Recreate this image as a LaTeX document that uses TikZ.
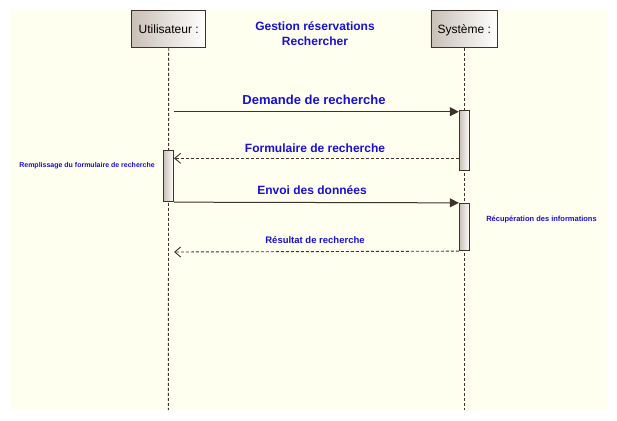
\documentclass[tikz,border=0pt]{standalone}
\usepackage{fontspec}
\setmainfont{Liberation Sans}
\usetikzlibrary{arrows.meta}
\definecolor{bgyellow}{HTML}{FEFFEF}
\definecolor{linecol}{HTML}{3E322A}
\definecolor{boxgray}{HTML}{C9C0B7}
\definecolor{txtblue}{HTML}{1A0FD6}
\tikzset{
  objbox/.style={draw=linecol, line width=0.9pt, left color=boxgray, right color=white, minimum width=74pt, minimum height=37pt, inner sep=0pt, font=\fontsize{12}{14}\selectfont, text depth=0pt},
  actbox/.style={draw=linecol, line width=0.9pt, left color=boxgray, right color=white, minimum width=10.5pt, inner sep=0pt},
  lifeline/.style={draw=linecol, line width=0.9pt, dash pattern=on 3pt off 2pt},
  syncmsg/.style={draw=linecol, line width=1pt, -{Triangle[length=9pt,width=9pt]}},
  retmsg/.style={draw=linecol, line width=0.9pt, dash pattern=on 3pt off 2pt, -{Straight Barb[length=6pt,width=10pt]}},
  msgbig/.style={text=txtblue, font=\bfseries\fontsize{13}{15}\selectfont},
  msgmid/.style={text=txtblue, font=\bfseries\fontsize{12}{14}\selectfont},
  msgsmall/.style={text=txtblue, font=\bfseries\fontsize{9.5}{11}\selectfont},
  notetxt/.style={text=txtblue, font=\bfseries\fontsize{7}{8}\selectfont},
}
\begin{document}
\begin{tikzpicture}[x=1pt,y=-1pt]
\useasboundingbox (0,0) rectangle (617,420);
\fill[white] (0,0) rectangle (617,420);
\fill[bgyellow] (10,9.5) rectangle (608,410);
% lifelines
\coordinate (uend) at (168.3,410);
\coordinate (send) at (464.3,410);
\node[objbox] (user) at (168.7,28.8) {Utilisateur :};
\node[objbox, minimum width=66.7pt] (sys) at (464.3,28.8) {Système :};
\draw[lifeline] (user.south) -- (uend);
\draw[lifeline] (sys.south) -- (send);
% title
\node[text=txtblue, font=\bfseries\fontsize{12}{15}\selectfont, align=center] (title) at (315,34) {Gestion réservations\\Rechercher};
% activation boxes
\node[actbox, minimum height=60pt] (sa1) at (464.5,140.3) {};
\node[actbox, minimum height=51.4pt] (ua1) at (168.5,176) {};
\node[actbox, minimum height=47.4pt] (sa2) at (464.5,227) {};
% messages
\coordinate (m1s) at (174,111.7);
\draw[syncmsg] (m1s) -- (m1s -| sa1.west);
\node[msgbig] (l1) at (314,100) {Demande de recherche};
\coordinate (m2e) at (174,158.3);
\draw[retmsg] (sa1.west |- m2e) -- (m2e);
\node[msgmid] (l2) at (315,148) {Formulaire de recherche};
\draw[syncmsg] (ua1.south east) -- (sa2.north west);
\node[msgmid] (l3) at (312,190) {Envoi des données};
\coordinate (m4e) at (174,252);
\draw[retmsg] (sa2.south west) -- (m4e);
\node[msgsmall] (l4) at (315,240) {Résultat de recherche};
% notes
\node[notetxt] (n1) at (87,165.5) {Remplissage du formulaire de recherche};
\node[notetxt, font=\bfseries\fontsize{7.5}{9}\selectfont] (n2) at (541.5,219.8) {Récupération des informations};
\end{tikzpicture}
\end{document}
